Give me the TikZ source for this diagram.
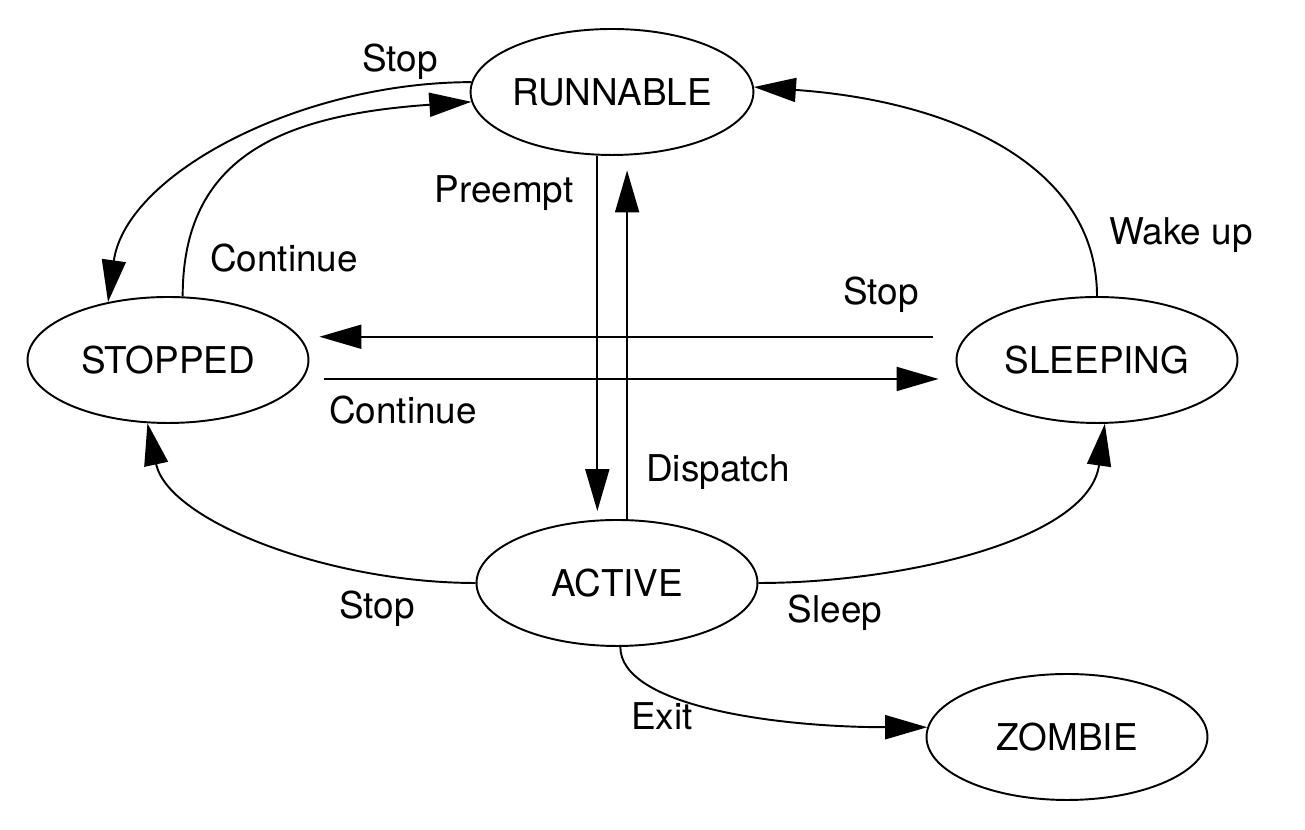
\documentclass[tikz,border=0pt]{standalone}
\usepackage{fontspec}
\setmainfont{TeX Gyre Heros}
\usetikzlibrary{shapes.geometric,arrows.meta}
\begin{document}
\begin{tikzpicture}[x=0.02cm,y=0.02cm,line width=1.1pt,font=\fontsize{21}{25}\selectfont,>={Triangle[length=8.4mm,width=4.8mm]},
  state/.style={draw,ellipse,inner sep=0pt,minimum width=5.62cm,minimum height=2.52cm},
  lbl/.style={anchor=base}]
\useasboundingbox (0,0) rectangle (1305,830);
\node[state] (run) at (612,738) {RUNNABLE};
\node[state] (sto) at (168,470) {STOPPED};
\node[state] (slp) at (1097,470) {SLEEPING};
\node[state] (act) at (617,247) {ACTIVE};
\node[state] (zom) at (1067,93) {ZOMBIE};
% transitions
\draw[->] (run.176) to[out=180,in=82,out distance=3.4cm,in distance=2.6cm] (sto.136);
\draw[->] (sto.77) to[out=90,in=184,out distance=2.8cm,in distance=3.8cm] (run.184);
\draw[->,shorten >=0.16cm] (run.257) -- (run.257 |- act.north);
\draw[->,shorten >=0.29cm] (act.81) -- (act.81 |- run.south);
\draw[->,shorten <=0.65cm,shorten >=0.2cm] (slp.170) -- (slp.170 -| sto.east);
\draw[->,shorten <=0.42cm,shorten >=0.34cm] (sto.352) -- (sto.352 -| slp.west);
\draw[->] (slp.90) to[out=90,in=-4,out distance=2.6cm,in distance=4cm] (run.2);
\draw[->] (act.west) to[out=180,in=-78,out distance=2.94cm,in distance=2cm] (sto.252);
\draw[->] (act.east) to[out=0,in=-98,out distance=2.84cm,in distance=2.36cm] (slp.277);
\draw[->] (act.273) to[out=-90,in=180,out distance=1.18cm,in distance=3.04cm] (zom.176);
% labels
\node[lbl] (lstopa) at (400,758) {Stop};
\node[lbl] (lconta) at (284,558) {Continue};
\node[lbl] (lpre) at (504,627) {Preempt};
\node[lbl] (lwake) at (1181,585) {Wake up};
\node[lbl] (lstopb) at (881,525) {Stop};
\node[lbl] (lcontb) at (403,406) {Continue};
\node[lbl] (ldisp) at (718,348) {Dispatch};
\node[lbl] (lstopc) at (377,211) {Stop};
\node[lbl] (lsleep) at (835,207) {Sleep};
\node[lbl] (lexit) at (662,100) {Exit};
\end{tikzpicture}
\end{document}
